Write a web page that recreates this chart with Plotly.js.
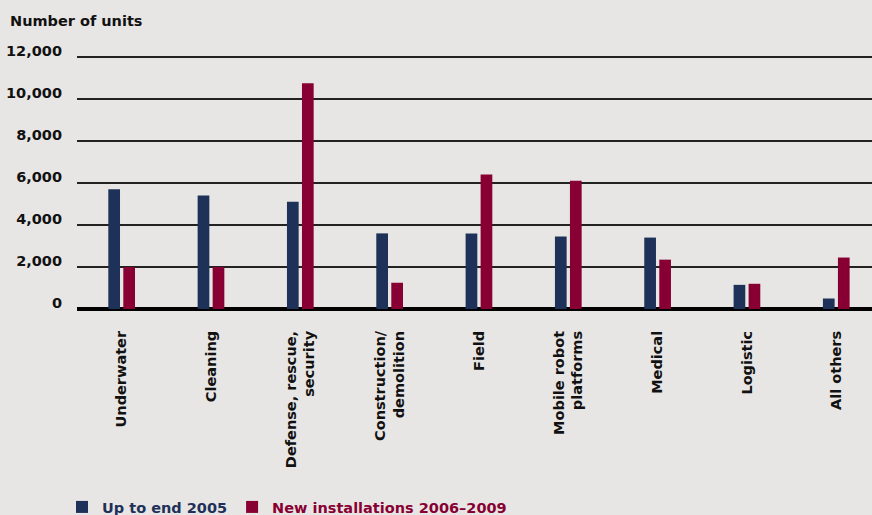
<!DOCTYPE html>
<html>
<head>
<meta charset="utf-8">
<script src="https://cdn.plot.ly/plotly-3.0.1.min.js"></script>
<style>html,body{margin:0;padding:0;background:#e8e6e4;}#chart{width:872px;height:515px;}</style>
</head>
<body>
<div id="chart"></div>
<script>
const categories = ["Underwater", "Cleaning", "Defense, rescue,<br>security", "Construction/<br>demolition", "Field", "Mobile robot<br>platforms", "Medical", "Logistic", "All others"];
const upTo2005 = [5700, 5400, 5100, 3600, 3600, 3450, 3400, 1150, 500];
const new2006to2009 = [2000, 2000, 10750, 1250, 6400, 6100, 2350, 1200, 2450];
const yTickVals = [0, 2000, 4000, 6000, 8000, 10000, 12000];
const yTickText = ["0", "2,000", "4,000", "6,000", "8,000", "10,000", "12,000"];

const FONT = "'DejaVu Sans', Verdana, sans-serif";
const NAVY = "#1e3158";
const RED = "#880033";
const FS = 14.5;

const traces = [
  {type: "bar", x: categories, y: upTo2005, name: '<span style="color:' + NAVY + '">Up to end 2005</span>',
   marker: {color: NAVY, line: {width: 0}}, hoverinfo: "x+y"},
  {type: "bar", x: categories, y: new2006to2009, name: '<span style="color:' + RED + '">New installations 2006–2009</span>',
   marker: {color: RED, line: {width: 0}}, hoverinfo: "x+y"}
];

const layout = {
  width: 872, height: 515,
  paper_bgcolor: "#e8e6e4", plot_bgcolor: "#e8e6e4",
  font: {family: FONT, size: FS, color: "#111"},
  margin: {l: 77, r: 0, t: 54, b: 205.5, pad: 0},
  barmode: "group", bargap: 0.664, bargroupgap: 0.22,
  title: {text: "<b>Number of units</b>", x: 10/872, xref: "container", xanchor: "left",
          y: 1 - 21/515, yref: "container", yanchor: "middle", font: {family: FONT, size: FS, color: "#111"}},
  xaxis: {type: "category", range: [-0.5, 8.4], tickangle: -90, ticks: "", showgrid: false, showline: false,
          zeroline: false, tickfont: {family: FONT, size: FS, color: "#111", weight: "bold"}, ticklabelstandoff: 18, fixedrange: true},
  yaxis: {range: [0, 12140], tickvals: yTickVals, ticktext: yTickText, ticks: "", showgrid: true,
          gridcolor: "#222", gridwidth: 1.3, zeroline: true, zerolinecolor: "#000", zerolinewidth: 3.5,
          showline: false, tickfont: {family: FONT, size: FS, color: "#111", weight: "bold"},
          ticklabelshift: -6, ticklabelstandoff: 14, fixedrange: true},
  showlegend: true,
  legend: {orientation: "h", xref: "container", yref: "container", x: 62/872, xanchor: "left", y: 1 - 507/515, yanchor: "middle",
           font: {family: FONT, size: FS, weight: "bold"}, bgcolor: "rgba(0,0,0,0)", itemwidth: 30, tracegroupgap: 0},
  hovermode: false
};

Plotly.newPlot("chart", traces, layout, {displayModeBar: false, staticPlot: true});
</script>
</body>
</html>
